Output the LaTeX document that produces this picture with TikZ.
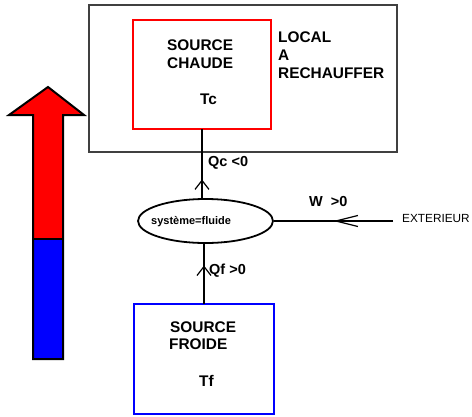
\documentclass[tikz,border=0pt]{standalone}
\usepackage{fontspec}
\setmainfont{Liberation Sans}
\usetikzlibrary{arrows.meta,decorations.markings,shapes.geometric}
\begin{document}
\begin{tikzpicture}[x=1pt,y=-1pt,
  lbl/.style={anchor=base west, inner sep=0pt, font=\bfseries\fontsize{15.4}{18}\selectfont},
  qlbl/.style={anchor=base west, inner sep=0pt, font=\bfseries\fontsize{14.5}{17}\selectfont},
  boxnode/.style={draw, anchor=north west, inner sep=0pt, outer sep=0pt},
  conn/.style={line width=2pt, black},
  midtip/.style={postaction={decorate}, decoration={markings, mark=at position #1 with {\arrow{Straight Barb[length=9pt,width=14pt,line width=1.2pt]}}}},
  longtip/.style={postaction={decorate}, decoration={markings, mark=at position #1 with {\arrow{Straight Barb[length=22pt,width=11pt,line width=1.2pt]}}}}
]
\useasboundingbox (0,0) rectangle (472,416);
\fill[white] (0,0) rectangle (472,416);

% big temperature arrow
\fill[red] (48,87) -- (84,115) -- (63,115) -- (63,239) -- (33,239) -- (33,115) -- (9,115) -- cycle;
\fill[blue] (33,239) rectangle (63,359);
\draw[line width=2pt, line join=miter] (48,87) -- (84,115) -- (63,115) -- (63,359) -- (33,359) -- (33,115) -- (9,115) -- cycle;
\draw[line width=2pt] (33,239) -- (63,239);

% boxes
\node (local) [boxnode, draw=black!75, line width=1.5pt, minimum width=308pt, minimum height=147pt] at (89,5) {};
\node (hot) [boxnode, draw=red, line width=2pt, minimum width=138pt, minimum height=109pt] at (133,20) {};
\node (cold) [boxnode, draw=blue, line width=2pt, minimum width=140pt, minimum height=110pt] at (134,304) {};
\node (fluid) [draw, ellipse, line width=1.8pt, minimum width=135pt, minimum height=44pt, inner sep=0pt] at (205.5,221) {};
\coordinate (ext) at (393,221);

% texts
\node (t1) [lbl] at (167,50) {SOURCE};
\node (t2) [lbl] at (167,68) {CHAUDE};
\node (t3) [lbl] at (200,104) {Tc};
\node (t4) [lbl] at (278,42) {LOCAL};
\node (t5) [lbl] at (278,60) {A};
\node (t6) [lbl] at (278,78) {RECHAUFFER};
\node (t7) [lbl] at (170,332) {SOURCE};
\node (t8) [lbl] at (169,349) {FROIDE};
\node (t9) [lbl] at (199,386) {Tf};
\node (qc) [qlbl] at (208,166) {Qc <0};
\node (qf) [qlbl] at (209,274) {Qf >0};
\node (w) [qlbl] at (309,206) {W\hspace{0.55em}>0};
\node (ftxt) [anchor=base west, inner sep=0pt, font=\bfseries\fontsize{11}{13}\selectfont] at (151,224.5) {système=fluide};
\node (extt) [anchor=base west, inner sep=0pt, font=\fontsize{11.8}{14}\selectfont] at (402,222) {EXTERIEUR};

% connectors
\draw[conn, midtip=0.27] (hot.south |- fluid.north) -- (hot.south);
\draw[conn, midtip=0.64] (cold.north) -- (cold.north |- fluid.south);
\draw[conn, longtip=0.5] (ext) -- (fluid.east);
\end{tikzpicture}
\end{document}
